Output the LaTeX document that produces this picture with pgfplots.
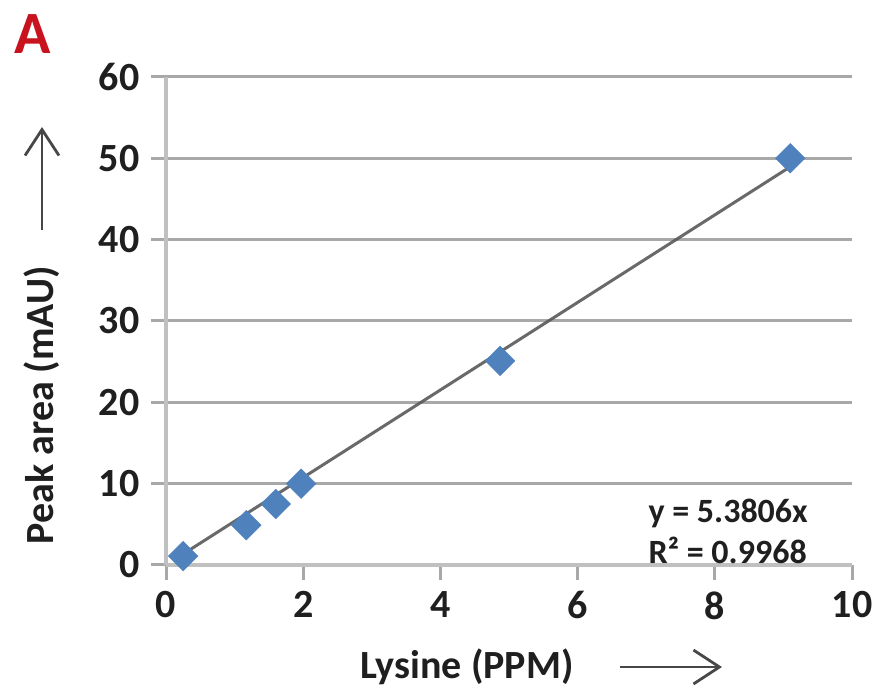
\documentclass[border=0pt]{standalone}
\usepackage{fontspec}
\setmainfont{Carlito}
\usepackage{pgfplots}
\pgfplotsset{compat=1.18}
\usetikzlibrary{arrows.meta}
\definecolor{markblue}{RGB}{79,129,189}
\definecolor{gridgray}{RGB}{168,168,168}
\definecolor{axisgray}{RGB}{192,192,192}
\definecolor{panelred}{RGB}{200,18,30}

% calibration data: peak area against lysine concentration
\pgfplotstableread{
ppm   area
0.25  1.1
1.17  4.9
1.60  7.5
1.97  10.0
4.87  25.1
9.10  50.0
}\lysine

\begin{document}
\begin{tikzpicture}[x=1pt,y=1pt]
\useasboundingbox (0,0) rectangle (878,690);
\begin{axis}[
  at={(166pt,125pt)}, anchor=south west,
  scale only axis, width=686pt, height=488pt,
  xmin=0, xmax=10, ymin=0, ymax=60,
  xtick={0,2,...,10}, ytick={0,10,...,60},
  axis lines=left,
  axis line style={-, color=axisgray, line width=3.5pt},
  ymajorgrids,
  major grid style={color=gridgray, line width=3pt},
  tick align=outside,
  major tick length=15pt,
  tick style={color=gridgray, line width=3pt},
  /pgf/number format/assume math mode=true,
  ticklabel style={font=\fontsize{40}{40}\selectfont\bfseries, color=black!88},
  yticklabel style={xshift=-8pt},
  xticklabel style={yshift=-8pt},
  clip=false,
]
\addplot[only marks, mark=square*, mark size=10.5pt,
  mark options={rotate=45, fill=markblue, draw=markblue}]
  table[x=ppm, y=area] {\lysine};
% linear fit through the origin, y = 5.3806x
\addplot[color=black!65, line width=3pt, opacity=0.9]
  coordinates {(0.25,1.345) (9.10,48.963)};
\end{axis}

\node[font=\fontsize{60}{60}\selectfont\bfseries, color=panelred] at (33,656) {A};

\node[rotate=90, font=\fontsize{40}{40}\selectfont\bfseries, color=black!88] at (42,285) {Peak area (mAU)};
\draw[color=black!72, line width=2.8pt, -{Straight Barb[length=26pt, width=34pt, line width=2.8pt]}] (42,460) -- (42,563);

\node[font=\fontsize{40}{40}\selectfont\bfseries, color=black!88] at (467,23) {Lysine (PPM)};
\draw[color=black!72, line width=2.8pt, -{Straight Barb[length=26pt, width=34pt, line width=2.8pt]}] (620,23) -- (722,23);

\node[anchor=west, font=\fontsize{34}{34}\selectfont\bfseries, color=black!88] at (645,177) {y = 5.3806x};
\node[anchor=west, font=\fontsize{34}{34}\selectfont\bfseries, color=black!88] at (645,140) {R² = 0.9968};
\end{tikzpicture}
\end{document}
